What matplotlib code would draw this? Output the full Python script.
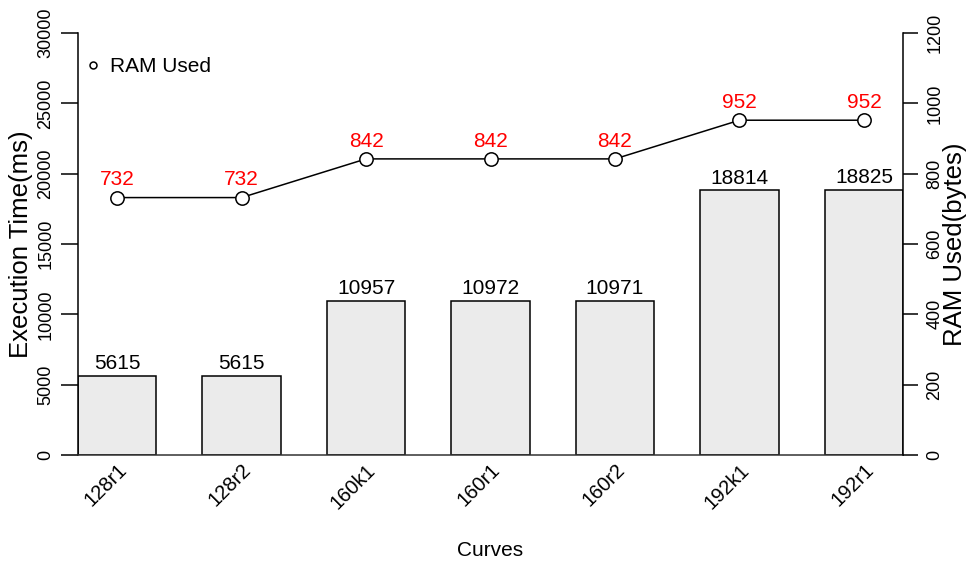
import numpy as np
import matplotlib
matplotlib.use("Agg")
import matplotlib.pyplot as plt
from matplotlib.lines import Line2D

plt.rcParams['font.family'] = ['Liberation Sans', 'DejaVu Sans']

# Data
curves = ["128r1", "128r2", "160k1", "160r1", "160r2", "192k1", "192r1"]
exec_time = [5615, 5615, 10957, 10972, 10971, 18814, 18825]
ram_used = [732, 732, 842, 842, 842, 952, 952]

x = np.arange(len(curves))
bar_w = 0.627

fig = plt.figure(figsize=(9.68, 5.64), dpi=100)
ax = fig.add_axes([78 / 968, 1 - 455 / 564, 825 / 968, 422 / 564])

# bars for execution time
bars = ax.bar(x, exec_time, width=bar_w, color='#ebebeb', edgecolor='black', linewidth=1.1, zorder=2)
for xi, v in zip(x, exec_time):
    ax.annotate(str(v), (xi, v), xytext=(0, 2), textcoords='offset points',
                ha='center', va='bottom', fontsize=15, color='black')

ax.set_xlim(-bar_w / 2, x[-1] + bar_w / 2)
ax.set_ylim(0, 30000)
ax.set_yticks(np.arange(0, 30001, 5000))
ax.tick_params(axis='y', length=12, width=1.1, labelsize=13, labelrotation=90, pad=5)
for lab in ax.get_yticklabels():
    lab.set_va('center')
ax.set_xticks(x)
ax.set_xticklabels(curves, rotation=45, ha='right', rotation_mode='anchor', fontsize=14.5)
ax.tick_params(axis='x', length=0, pad=4)
for s in ['top', 'right']:
    ax.spines[s].set_visible(False)
ax.spines['left'].set_linewidth(1.1)
ax.spines['bottom'].set_linewidth(1.1)
ax.spines['bottom'].set_color('#333333')
ax.set_ylabel("Execution Time(ms)", fontsize=18.5)
ax.yaxis.set_label_coords(-0.055, 0.5)
ax.set_xlabel("Curves", fontsize=15)
ax.xaxis.set_label_coords(0.5, -0.204)

# RAM line on secondary axis
ax2 = ax.twinx()
ax2.plot(x, ram_used, color='black', linewidth=1.1, marker='o', markersize=9.6,
         markerfacecolor='white', markeredgecolor='black', markeredgewidth=1.1, zorder=3)
for xi, v in zip(x, ram_used):
    ax2.annotate(str(v), (xi, v), xytext=(0, 6), textcoords='offset points',
                 ha='center', va='bottom', fontsize=15, color='red')
ax2.set_ylim(0, 1200)
ax2.set_yticks(np.arange(0, 1201, 200))
ax2.tick_params(axis='y', length=11, width=1.1, labelsize=13, labelrotation=90, pad=6)
for lab in ax2.get_yticklabels():
    lab.set_va('center')
for s in ['top', 'left', 'bottom']:
    ax2.spines[s].set_visible(False)
ax2.spines['right'].set_linewidth(1.1)
ax2.set_ylabel("RAM Used(bytes)", fontsize=18.5)
ax2.yaxis.set_label_coords(1.0485, 0.5)

handle = Line2D([], [], linestyle='none', marker='o', markersize=5,
                markerfacecolor='white', markeredgecolor='black', markeredgewidth=1.1)
ax2.legend([handle], ["RAM Used"], loc='center left', bbox_to_anchor=(83 / 968, 1 - 67 / 564),
           bbox_transform=fig.transFigure, frameon=False, borderpad=0, borderaxespad=0,
           handlelength=1, handletextpad=0.3, fontsize=15)

fig.savefig("out.png", dpi=100)
